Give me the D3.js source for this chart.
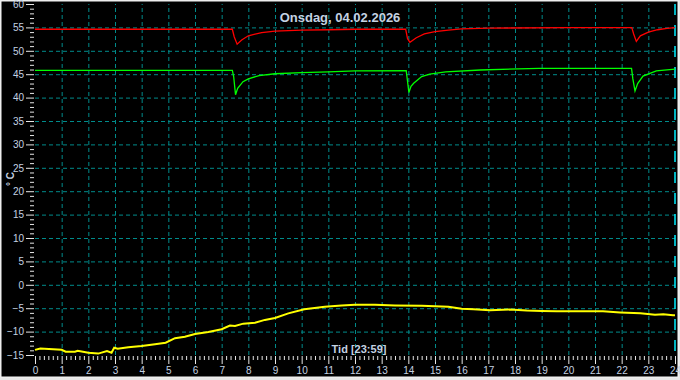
<!DOCTYPE html>
<html>
<head>
<meta charset="utf-8">
<script src="https://cdn.jsdelivr.net/npm/d3@7/dist/d3.min.js"></script>
<style>
  html, body { margin: 0; padding: 0; background: #e8e8e8; }
  svg { display: block; }
  text { font-family: "Liberation Sans", Arial, sans-serif; }
</style>
</head>
<body>
<svg id="chart" width="680" height="380"></svg>
<script>
// ---- data ----
const titleText = "Onsdag, 04.02.2026";
const xLabelText = "Tid [23:59]";
const yLabelText = "° C";
const hourTicks = d3.range(0, 25, 1);
const tempTicks = d3.range(-15, 61, 5);

// supply (red) [hour, °C]
const supplyRed = [
  [0, 54.6], [3, 54.6], [7.4, 54.6], [7.47, 53.0], [7.58, 51.4], [7.75, 52.3], [8.0, 53.2],
  [8.5, 53.9], [9, 54.2], [10, 54.4], [11, 54.5], [12, 54.6], [13.9, 54.65],
  [13.97, 52.6], [14.06, 51.8], [14.3, 52.8], [14.6, 53.6], [15.0, 54.1], [15.5, 54.4],
  [16, 54.7], [17, 54.85], [20, 54.95], [22.38, 54.95], [22.45, 53.6], [22.55, 52.0],
  [22.7, 53.2], [23.0, 54.0], [23.35, 54.5], [23.7, 54.8], [24, 54.95]
];

// return (green) [hour, °C]
const returnGreen = [
  [0, 45.8], [3, 45.8], [7.4, 45.8], [7.45, 44.5], [7.52, 40.6], [7.6, 42.0], [7.8, 43.4],
  [8.0, 44.0], [8.4, 44.7], [9.0, 45.1], [10, 45.35], [11, 45.5], [12, 45.7],
  [13.92, 45.75], [13.97, 43.5], [14.02, 41.1], [14.1, 42.4], [14.2, 43.05], [14.5, 44.5],
  [14.8, 45.0], [15.4, 45.5], [16.7, 45.9], [18.9, 46.25], [22.37, 46.25], [22.42, 44.0],
  [22.5, 41.4], [22.6, 43.0], [22.8, 44.6], [23.3, 45.7], [24, 46.1]
];

// outdoor (yellow) [hour, °C]
const outdoorYellow = [
  [0, -13.9], [0.2, -13.6], [1.0, -13.9], [1.15, -14.3], [1.5, -14.3], [1.6, -14.1],
  [2.0, -14.5], [2.37, -14.7], [2.7, -14.15], [2.87, -14.5], [2.97, -13.44], [3.1, -13.65],
  [3.5, -13.36], [4.0, -13.08], [4.5, -12.7], [4.9, -12.37], [5.25, -11.4], [5.62, -11.1],
  [6.0, -10.5], [6.5, -10.1], [7.0, -9.5], [7.31, -8.7], [7.5, -8.8], [7.81, -8.3],
  [8.25, -8.1], [8.62, -7.5], [9.0, -7.1], [9.5, -6.1], [10.1, -5.24], [10.87, -4.68],
  [11.5, -4.4], [12.0, -4.25], [12.75, -4.25], [13.5, -4.4], [14.5, -4.5], [15.5, -4.68],
  [16.0, -5.1], [16.44, -5.24], [17.06, -5.45], [17.8, -5.3], [18.44, -5.5], [19.0, -5.6],
  [19.56, -5.67], [20.06, -5.67], [21.3, -5.67], [21.94, -5.9], [22.7, -6.1], [23.25, -6.4],
  [23.56, -6.3], [23.93, -6.5], [24, -6.5]
];

// ---- layout ----
const svg = d3.select("#chart");
const W = 680, H = 380;
const mLeft = 35, mRight = 675, mTop = 4, mBottom = 355;
const textColor = "#c4d2e2";
const gridColor = "#008b8b";
const tickColor = "#e6e6e6";

svg.append("rect").attr("x", 0).attr("y", 0).attr("width", W).attr("height", H).attr("fill", "#e8e8e8");
svg.append("rect").attr("x", 1).attr("y", 1).attr("width", 677).attr("height", 376)
  .attr("fill", "#000").attr("stroke", "#f4f4f4").attr("stroke-width", 1);

const x = d3.scaleLinear().domain([0, 24]).range([mLeft, mRight]);
const y = d3.scaleLinear().domain([-15, 60]).range([mBottom, mTop]);

// grid
svg.append("g").attr("transform", `translate(${mLeft},0)`)
  .call(d3.axisLeft(y).tickValues(d3.range(-10, 56, 5)).tickSize(-(mRight - mLeft)).tickFormat(""))
  .call(g => g.select(".domain").remove())
  .call(g => g.selectAll("line").attr("stroke", gridColor).attr("stroke-dasharray", "4,3"));

svg.append("g").attr("transform", `translate(0,${mBottom})`)
  .call(d3.axisBottom(x).tickValues(d3.range(1, 24, 1)).tickSize(-(mBottom - mTop)).tickFormat(""))
  .call(g => g.select(".domain").remove())
  .call(g => g.selectAll("line").attr("stroke", gridColor).attr("stroke-dasharray", "4,3"));

// now marker
svg.append("line").attr("x1", x(24)).attr("x2", x(24)).attr("y1", mTop).attr("y2", mBottom)
  .attr("stroke", "#00f0ff").attr("stroke-width", 1.5).attr("stroke-dasharray", "11,10");

// y axis minor / major
svg.append("g").attr("transform", `translate(${mLeft - 1},0)`)
  .call(d3.axisLeft(y).tickValues(d3.range(-15, 61, 1).filter(v => v % 5 !== 0)).tickSize(4).tickFormat(""))
  .call(g => g.select(".domain").remove())
  .call(g => g.selectAll("line").attr("stroke", tickColor));
svg.append("g").attr("transform", `translate(${mLeft - 1},0)`)
  .call(d3.axisLeft(y).tickValues(tempTicks).tickSize(8).tickPadding(2))
  .call(g => g.select(".domain").remove())
  .call(g => g.selectAll("line").attr("stroke", tickColor))
  .call(g => g.selectAll("text").attr("fill", textColor).attr("font-size", 10)
    .attr("font-family", "'Liberation Sans', Arial, sans-serif"));

// x axis minor / major
const minorX = d3.range(0, 24 * 6 + 1).map(i => i / 6).filter((v, i) => i % 6 !== 0);
svg.append("g").attr("transform", `translate(0,${mBottom + 1})`)
  .call(d3.axisBottom(x).tickValues(minorX).tickSize(4).tickFormat(""))
  .call(g => g.select(".domain").remove())
  .call(g => g.selectAll("line").attr("stroke", tickColor));
svg.append("g").attr("transform", `translate(0,${mBottom + 1})`)
  .call(d3.axisBottom(x).tickValues(hourTicks).tickSize(8).tickPadding(3))
  .call(g => g.select(".domain").remove())
  .call(g => g.selectAll("line").attr("stroke", tickColor))
  .call(g => g.selectAll("text").attr("fill", textColor).attr("font-size", 10)
    .attr("font-family", "'Liberation Sans', Arial, sans-serif"));

// series
const line = d3.line().x(d => x(d[0])).y(d => y(d[1]));
svg.append("path").datum(outdoorYellow).attr("d", line)
  .attr("fill", "none").attr("stroke", "#ffff00").attr("stroke-width", 2);
svg.append("path").datum(returnGreen).attr("d", line)
  .attr("fill", "none").attr("stroke", "#00ff00").attr("stroke-width", 1.3);
svg.append("path").datum(supplyRed).attr("d", line)
  .attr("fill", "none").attr("stroke", "#ff0000").attr("stroke-width", 1.3);

// texts
svg.append("text").attr("x", 340).attr("y", 22).attr("text-anchor", "middle")
  .attr("font-size", 13).attr("font-weight", "bold").attr("fill", textColor).text(titleText);
svg.append("text").attr("x", 359).attr("y", 353).attr("text-anchor", "middle")
  .attr("font-size", 11).attr("font-weight", "bold").attr("fill", textColor).text(xLabelText);
svg.append("text").attr("transform", "translate(13.5,179) rotate(-90)").attr("text-anchor", "middle")
  .attr("font-size", 10).attr("font-weight", "bold").attr("fill", textColor).text(yLabelText);
</script>
</body>
</html>
